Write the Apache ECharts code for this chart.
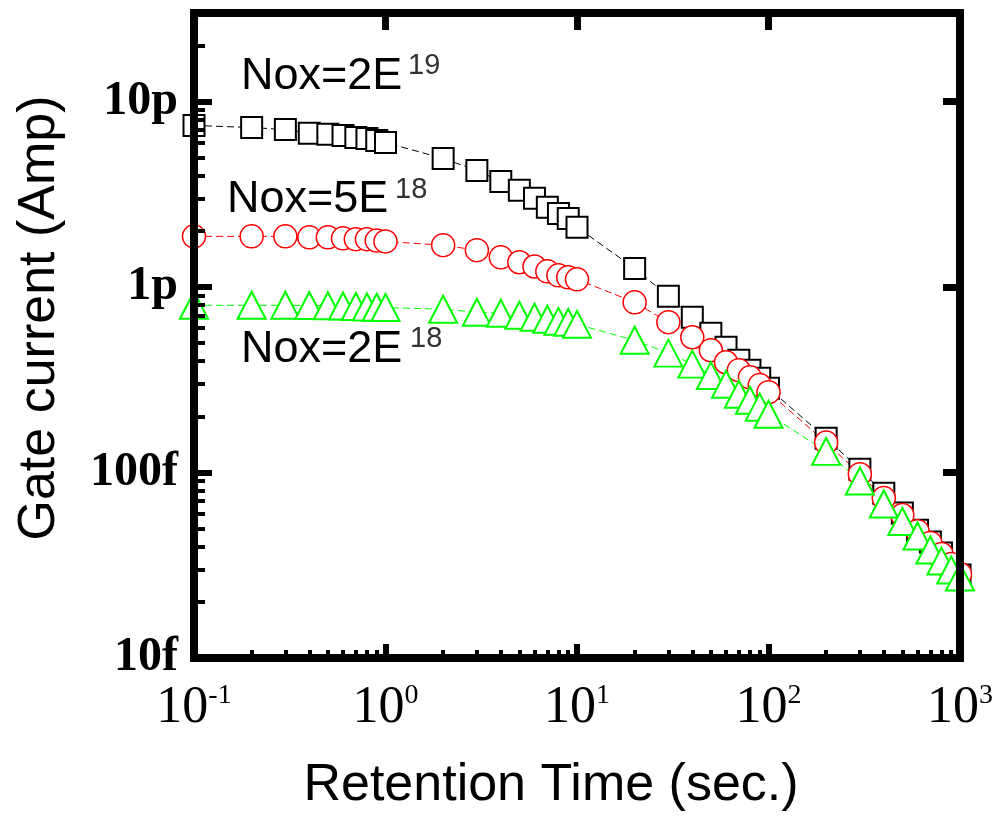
<!DOCTYPE html>
<html><head><meta charset="utf-8">
<script src="https://cdn.jsdelivr.net/npm/echarts@6/dist/echarts.min.js"></script>
<style>html,body{margin:0;padding:0;background:#fff}#c{width:997px;height:818px}</style>
</head><body><div id="c"></div>
<script>
// Retention time (s)
const times = [0.1,0.2,0.3,0.4,0.5,0.6,0.7,0.8,0.9,1,
  2,3,4,5,6,7,8,9,10,
  20,30,40,50,60,70,80,90,100,
  200,300,400,500,600,700,800,900,1000];
// Gate current (A)
const nox2e19 = [7.43e-12,7.24e-12,7.06e-12,6.75e-12,6.65e-12,6.56e-12,6.40e-12,6.32e-12,6.17e-12,6.01e-12,
  4.93e-12,4.25e-12,3.71e-12,3.32e-12,3.01e-12,2.69e-12,2.49e-12,2.34e-12,2.10e-12,
  1.26e-12,8.91e-13,6.87e-13,5.63e-13,4.74e-13,4.03e-13,3.56e-13,3.22e-13,2.85e-13,
  1.53e-13,1.04e-13,7.74e-14,6.04e-14,4.89e-14,4.22e-14,3.68e-14,3.17e-14,2.80e-14];
const nox5e18 = [1.875e-12,1.875e-12,1.875e-12,1.853e-12,1.853e-12,1.83e-12,1.81e-12,1.81e-12,1.78e-12,1.76e-12,
  1.68e-12,1.58e-12,1.445e-12,1.36e-12,1.29e-12,1.215e-12,1.156e-12,1.127e-12,1.10e-12,
  8.27e-13,6.46e-13,5.36e-13,4.56e-13,3.93e-13,3.56e-13,3.26e-13,2.96e-13,2.71e-13,
  1.45e-13,9.8e-14,7.28e-14,5.9e-14,4.83e-14,4.17e-14,3.64e-14,3.21e-14,2.84e-14];
const nox2e18 = [7.97e-13,7.97e-13,7.97e-13,7.95e-13,7.92e-13,7.9e-13,7.85e-13,7.8e-13,7.78e-13,7.75e-13,
  7.59e-13,7.31e-13,7.22e-13,7.04e-13,6.87e-13,6.70e-13,6.53e-13,6.45e-13,6.29e-13,
  5.16e-13,4.40e-13,3.84e-13,3.33e-13,2.99e-13,2.64e-13,2.45e-13,2.25e-13,2.06e-13,
  1.30e-13,9.0e-14,6.76e-14,5.44e-14,4.55e-14,3.82e-14,3.33e-14,2.98e-14,2.73e-14];

const xMajorTicks = [0.1,1,10,100,1000];
const xTickExponents = ['-1','0','1','2','3'];
const yMajorTicks = [1e-14,1e-13,1e-12,1e-11];
const yTickLabels = ['10f','100f','1p','10p'];
const seriesNames = ['Nox=2E19','Nox=5E18','Nox=2E18'];

function minorTicks(majors, extraTop) {
  const out = [];
  for (let i = 0; i < majors.length - 1; i++)
    for (let k = 2; k <= 9; k++) out.push(k * majors[i]);
  if (extraTop) out.push(extraTop);
  return out;
}
const xMinor = minorTicks(xMajorTicks);
const yMinor = minorTicks(yMajorTicks, 2e-11);

const chart = echarts.init(document.getElementById('c'), null, {renderer: 'canvas'});
const grid = {left: 194, right: 37, top: 13, bottom: 160};
const lineSt = {color: '#000', width: 8, cap: 'square'};
const xMin = 0.1, xMax = 1000, yMin = 1e-14, yMax = 3e-11;

function mkSeries(name, data, symbol, size, color, bw) {
  return {
    name, type: 'line', xAxisIndex: 0, yAxisIndex: 0,
    data: times.map((t, i) => [t, data[i]]),
    symbol, symbolSize: size, showAllSymbol: true, clip: false,
    lineStyle: {color, width: 1, type: [7, 4]},
    itemStyle: {color: '#fff', borderColor: color, borderWidth: bw},
    emphasis: {disabled: true}, animation: false
  };
}

chart.setOption({
  backgroundColor: '#fff',
  animation: false,
  grid: [Object.assign({}, grid), Object.assign({}, grid)],
  xAxis: [
    {gridIndex: 0, type: 'log', min: xMin, max: xMax, position: 'bottom', z: 10,
     axisLine: {show: true, lineStyle: lineSt},
     axisTick: {show: true, inside: true, length: 14, lineStyle: {color: '#000', width: 6}, customValues: xMajorTicks},
     axisLabel: {show: true, margin: 24, customValues: xMajorTicks,
       formatter: v => { const i = xMajorTicks.findIndex(m => Math.abs(Math.log10(m) - Math.log10(v)) < 1e-6); return '{b|10}{s|' + (i >= 0 ? xTickExponents[i] : '') + '}'; },
       rich: {b: {fontFamily: 'Liberation Serif', fontSize: 52, lineHeight: 52, color: '#000', verticalAlign: 'bottom'},
              s: {fontFamily: 'Liberation Serif', fontSize: 28, lineHeight: 28, color: '#000', verticalAlign: 'top'}}},
     splitLine: {show: false}},
    {gridIndex: 0, type: 'log', min: xMin, max: xMax, position: 'top', z: 10,
     axisLine: {show: true, lineStyle: lineSt},
     axisTick: {show: true, inside: true, length: 17, lineStyle: {color: '#000', width: 7}, customValues: [1, 10, 100]},
     axisLabel: {show: false}, splitLine: {show: false}},
    {gridIndex: 1, type: 'log', min: xMin, max: xMax, position: 'bottom', z: 10,
     axisLine: {show: false},
     axisTick: {show: true, inside: true, length: 8, lineStyle: {color: '#000', width: 4}, customValues: xMinor},
     axisLabel: {show: false}, splitLine: {show: false}}
  ],
  yAxis: [
    {gridIndex: 0, type: 'log', min: yMin, max: yMax, position: 'left', z: 10,
     axisLine: {show: true, lineStyle: lineSt},
     axisTick: {show: true, inside: true, length: 18, lineStyle: {color: '#000', width: 6}, customValues: yMajorTicks},
     axisLabel: {show: true, margin: 16, customValues: yMajorTicks,
       formatter: v => { const i = yMajorTicks.findIndex(m => Math.abs(Math.log10(m) - Math.log10(v)) < 1e-6); return i >= 0 ? yTickLabels[i] : ''; },
       fontFamily: 'Liberation Serif', fontWeight: 'bold', fontSize: 48, color: '#000'},
     splitLine: {show: false}},
    {gridIndex: 0, type: 'log', min: yMin, max: yMax, position: 'right', z: 10,
     axisLine: {show: true, lineStyle: lineSt},
     axisTick: {show: true, inside: true, length: 17, lineStyle: {color: '#000', width: 7}, customValues: [1e-13, 1e-12, 1e-11]},
     axisLabel: {show: false}, splitLine: {show: false}},
    {gridIndex: 1, type: 'log', min: yMin, max: yMax, position: 'left', z: 10,
     axisLine: {show: false},
     axisTick: {show: true, inside: true, length: 11, lineStyle: {color: '#000', width: 4}, customValues: yMinor},
     axisLabel: {show: false}, splitLine: {show: false}}
  ],
  series: [
    mkSeries(seriesNames[0], nox2e19, 'rect', 21, '#000000', 2),
    mkSeries(seriesNames[1], nox5e18, 'circle', 23, '#ff0000', 1.5),
    mkSeries(seriesNames[2], nox2e18, 'triangle', [28, 27], '#00ff00', 2)
  ],
  graphic: [
    {type: 'text', x: 40, y: 318, rotation: Math.PI / 2, z: 20,
     style: {text: 'Gate current (Amp)', font: '52px "Liberation Sans"', fill: '#000', align: 'center', verticalAlign: 'middle'}},
    {type: 'text', x: 551, y: 786, z: 20,
     style: {text: 'Retention Time (sec.)', font: '52px "Liberation Sans"', fill: '#000', align: 'center', verticalAlign: 'middle'}},
    {type: 'text', x: 241, y: 77, z: 20, style: {text: 'Nox=2E', font: '45px "Liberation Sans"', fill: '#000', align: 'left', verticalAlign: 'middle'}},
    {type: 'text', x: 408, y: 66, z: 20, style: {text: '19', font: '29px "Liberation Sans"', fill: '#333', align: 'left', verticalAlign: 'middle'}},
    {type: 'text', x: 227, y: 200, z: 20, style: {text: 'Nox=5E', font: '45px "Liberation Sans"', fill: '#000', align: 'left', verticalAlign: 'middle'}},
    {type: 'text', x: 395, y: 190, z: 20, style: {text: '18', font: '29px "Liberation Sans"', fill: '#333', align: 'left', verticalAlign: 'middle'}},
    {type: 'text', x: 241, y: 350, z: 20, style: {text: 'Nox=2E', font: '45px "Liberation Sans"', fill: '#000', align: 'left', verticalAlign: 'middle'}},
    {type: 'text', x: 410, y: 339, z: 20, style: {text: '18', font: '29px "Liberation Sans"', fill: '#333', align: 'left', verticalAlign: 'middle'}}
  ]
});
</script>
</body></html>
